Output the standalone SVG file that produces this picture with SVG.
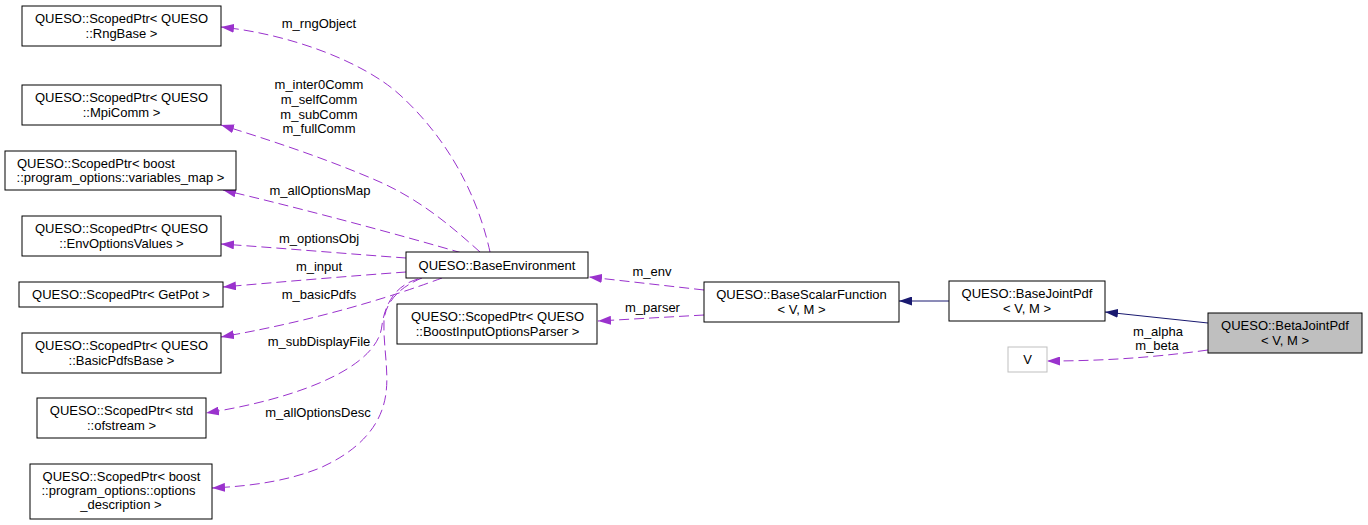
<svg xmlns="http://www.w3.org/2000/svg" width="1368" height="525" viewBox="0 0 1368 525">
<style>
.n rect{fill:#fff;stroke:#000;stroke-width:1}
text{font-family:"Liberation Sans",Arial,sans-serif;font-size:13px;fill:#000}
.c{text-anchor:middle}
.s{text-anchor:start}
.d{fill:none;stroke:#9a32cd;stroke-width:1;stroke-dasharray:10,5}
.i{fill:none;stroke:#191970;stroke-width:1}
</style>
<defs>
<marker id="ap" markerUnits="userSpaceOnUse" markerWidth="13" markerHeight="9" refX="13" refY="4.5" orient="auto"><path d="M0,0 L13,4.5 L0,9 z" fill="#9a32cd" stroke="none"/></marker>
<marker id="ab" markerUnits="userSpaceOnUse" markerWidth="13" markerHeight="9" refX="13" refY="4.5" orient="auto"><path d="M0,0 L13,4.5 L0,9 z" fill="#191970" stroke="none"/></marker>
</defs>
<rect width="1368" height="525" fill="#fff"/>
<g id="connectors">
<path class="d" marker-end="url(#ap)" d="M490,252 C482,215 460,150 400,95 C364,62 290,34 221,27"/>
<path class="d" marker-end="url(#ap)" d="M480,252 C450,225 420,200 380,182 C330,160 270,140 221,125"/>
<path class="d" marker-end="url(#ap)" d="M462,253 C400,235 300,208 223,190"/>
<path class="d" marker-end="url(#ap)" d="M406,258 C350,254 280,248 221,244"/>
<path class="d" marker-end="url(#ap)" d="M406,272 C350,276 280,282 223,287"/>
<path class="d" marker-end="url(#ap)" d="M442,278 C410,290 330,318 221,337"/>
<path class="d" marker-end="url(#ap)" d="M418,279 C400,284 386,298 382,325 C378,370 290,400 206,413"/>
<path class="d" marker-end="url(#ap)" d="M422,278 C402,286 386,300 384,320 C383,345 389,370 386,393 C382,425 360,450 320,468 C290,480 255,486 212,488"/>
<path class="d" marker-end="url(#ap)" d="M704,290 L589,277"/>
<path class="d" marker-end="url(#ap)" d="M704,315 L598,321"/>
<path class="i" marker-end="url(#ab)" d="M949,301 L899,301"/>
<path class="i" marker-end="url(#ab)" d="M1208,323 L1105,312"/>
<path class="d" marker-end="url(#ap)" d="M1208,350 C1150,358 1100,361 1047,361"/>
<text class="c" x="319" y="28">m_rngObject</text>
<text class="c" x="319" y="89">m_inter0Comm</text>
<text class="c" x="319" y="104">m_selfComm</text>
<text class="c" x="319" y="118.5">m_subComm</text>
<text class="c" x="319" y="133">m_fullComm</text>
<text class="c" x="320" y="195">m_allOptionsMap</text>
<text class="c" x="319" y="243">m_optionsObj</text>
<text class="c" x="319" y="271">m_input</text>
<text class="c" x="319" y="299">m_basicPdfs</text>
<text class="c" x="319" y="346">m_subDisplayFile</text>
<text class="c" x="318" y="417">m_allOptionsDesc</text>
<text class="c" x="652" y="276">m_env</text>
<text class="c" x="652.5" y="312">m_parser</text>
<text class="c" x="1158" y="336">m_alpha</text>
<text class="c" x="1157" y="350">m_beta</text>
</g>
<g id="node-rngbase" class="n">
<rect x="22" y="6" width="199" height="40"/>
<text class="c" x="121.5" y="23">QUESO::ScopedPtr&lt; QUESO</text>
<text class="c" x="121.5" y="37.5">::RngBase &gt;</text>
</g>
<g id="node-mpicomm" class="n">
<rect x="22" y="85" width="199" height="40"/>
<text class="c" x="121.5" y="102">QUESO::ScopedPtr&lt; QUESO</text>
<text class="c" x="121.5" y="116.5">::MpiComm &gt;</text>
</g>
<g id="node-variablesmap" class="n">
<rect x="5" y="151" width="231" height="39"/>
<text class="s" x="17" y="167.5">QUESO::ScopedPtr&lt; boost</text>
<text class="c" x="120.5" y="182">::program_options::variables_map &gt;</text>
</g>
<g id="node-envoptions" class="n">
<rect x="22" y="216" width="199" height="40"/>
<text class="c" x="121.5" y="233">QUESO::ScopedPtr&lt; QUESO</text>
<text class="c" x="121.5" y="247.5">::EnvOptionsValues &gt;</text>
</g>
<g id="node-getpot" class="n">
<rect x="19" y="282" width="204" height="25"/>
<text class="c" x="121" y="299">QUESO::ScopedPtr&lt; GetPot &gt;</text>
</g>
<g id="node-basicpdfs" class="n">
<rect x="22" y="333" width="199" height="40"/>
<text class="c" x="121.5" y="350">QUESO::ScopedPtr&lt; QUESO</text>
<text class="c" x="121.5" y="364.5">::BasicPdfsBase &gt;</text>
</g>
<g id="node-ofstream" class="n">
<rect x="37" y="398" width="169" height="40"/>
<text class="c" x="121.5" y="415">QUESO::ScopedPtr&lt; std</text>
<text class="c" x="121.5" y="429.5">::ofstream &gt;</text>
</g>
<g id="node-optionsdesc" class="n">
<rect x="30" y="464" width="182" height="55"/>
<text class="c" x="121.5" y="481">QUESO::ScopedPtr&lt; boost</text>
<text class="s" x="41.5" y="495">::program_options::options</text>
<text class="c" x="121" y="509">_description &gt;</text>
</g>
<g id="node-baseenvironment" class="n">
<rect x="406" y="252" width="182" height="26"/>
<text class="c" x="497" y="269.5">QUESO::BaseEnvironment</text>
</g>
<g id="node-boostparser" class="n">
<rect x="397" y="304" width="200" height="40"/>
<text class="c" x="497.5" y="321">QUESO::ScopedPtr&lt; QUESO</text>
<text class="c" x="497.5" y="335.5">::BoostInputOptionsParser &gt;</text>
</g>
<g id="node-basescalarfunction" class="n">
<rect x="704" y="282" width="195" height="40"/>
<text class="c" x="801.5" y="299">QUESO::BaseScalarFunction</text>
<text class="c" x="801.5" y="313.5">&lt; V, M &gt;</text>
</g>
<g id="node-basejointpdf" class="n">
<rect x="949" y="281" width="156" height="40"/>
<text class="c" x="1027" y="298">QUESO::BaseJointPdf</text>
<text class="c" x="1027" y="312.5">&lt; V, M &gt;</text>
</g>
<g id="node-betajointpdf" class="n">
<rect x="1208" y="313" width="154" height="40" style="fill:#bfbfbf"/>
<text class="c" x="1285" y="330">QUESO::BetaJointPdf</text>
<text class="c" x="1285" y="344.5">&lt; V, M &gt;</text>
</g>
<g id="node-v" class="n">
<rect x="1008" y="347" width="39" height="25" style="stroke:#bfbfbf"/>
<text class="c" x="1027.5" y="364">V</text>
</g>
</svg>
